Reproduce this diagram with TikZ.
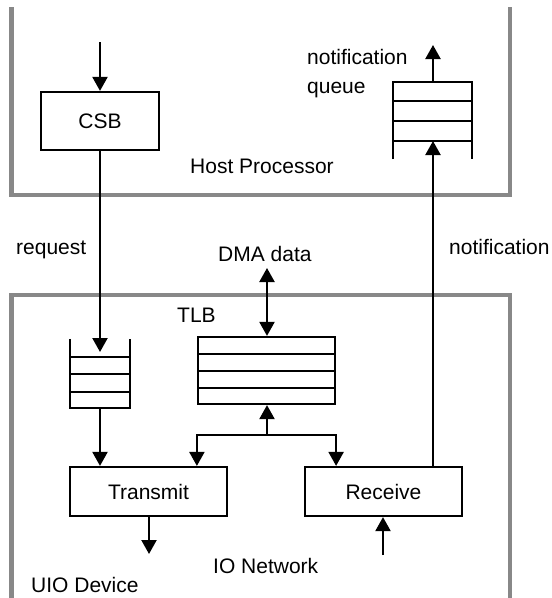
\documentclass[tikz,border=0pt]{standalone}
\usepackage{fontspec}
\setmainfont{Liberation Sans}
\usetikzlibrary{arrows.meta}
\definecolor{framegray}{RGB}{136,136,136}
\begin{document}
\begin{tikzpicture}[x=1pt,y=-1pt,
  every node/.style={font=\fontsize{21}{25}\selectfont},
  frame/.style={draw=framegray,line width=4.3pt,line join=miter},
  ln/.style={draw=black,line width=2.2pt},
  arr/.style={ln,-{Triangle[length=14pt,width=15pt]}},
  darr/.style={ln,{Triangle[length=14pt,width=15pt]}-{Triangle[length=14pt,width=15pt]}},
  box/.style={ln,rectangle,inner sep=0pt},
  lbl/.style={anchor=base west,inner sep=0pt},
  area/.style={rectangle,inner sep=0pt}]
\useasboundingbox (0,0) rectangle (552,598);
\fill[white] (0,0) rectangle (552,598);

% frames
\draw[frame] (11.5,7) -- (11.5,195) -- (510,195) -- (510,7);
\draw[frame] (11.5,598) -- (11.5,295) -- (510,295) -- (510,598);

% nodes
\node[box,draw,minimum width=118pt,minimum height=58pt] (csb) at (100,121) {CSB};
\node[area,minimum width=79pt,minimum height=77pt] (nq) at (432.5,120.5) {};
\node[area,minimum width=59pt,minimum height=69pt] (rq) at (100,373.5) {};
\node[box,draw,minimum width=137pt,minimum height=67pt] (tlb) at (266.5,370.5) {};
\node[box,draw,minimum width=157pt,minimum height=49pt] (tx) at (148.5,491.5) {Transmit};
\node[box,draw,minimum width=157pt,minimum height=49pt] (rx) at (383.5,491.5) {Receive};

% notification queue drawing
\draw[ln] (nq.south west) -- (nq.north west) -- (nq.north east) -- (nq.south east);
\draw[ln] (393,101) -- (472,101);
\draw[ln] (393,121) -- (472,121);
\draw[ln] (393,141) -- (472,141);
% request queue drawing
\draw[ln] (rq.north west) -- (rq.south west) -- (rq.south east) -- (rq.north east);
\draw[ln] (70.5,357) -- (129.5,357);
\draw[ln] (70.5,374) -- (129.5,374);
\draw[ln] (70.5,392) -- (129.5,392);
% TLB rows
\draw[ln] (198,354) -- (335,354);
\draw[ln] (198,371) -- (335,371);
\draw[ln] (198,388) -- (335,388);

% labels
\node[lbl] (hp) at (190,173) {Host Processor};
\node[lbl] (nql1) at (307,64) {notification};
\node[lbl] (nql2) at (307,93) {queue};
\node[lbl] (req) at (16,254) {request};
\node[lbl] (dma) at (218,261) {DMA data};
\node[lbl] (notl) at (449,254) {notification};
\node[lbl] (tlbl) at (177,322) {TLB};
\node[lbl] (ion) at (213,573) {IO Network};
\node[lbl] (uio) at (31,592) {UIO Device};

% coordinates
\coordinate (csbin) at (100,42);
\coordinate (rqin) at (100,352);
\coordinate (txout) at (149,554);
\coordinate (rxin) at (383,555);
\coordinate (nqin) at (433,141);
\coordinate (nqout) at (433,45);
\coordinate (dmaend) at (267,268);
\coordinate (j) at (267,435);

% connectors
\draw[arr] (csbin) -- (csb.north);
\draw[arr] (csb.south) -- (rqin);
\draw[arr] (rq.south) -- (rq.south |- tx.north);
\draw[arr] (tx.south -| txout) -- (txout);
\draw[arr] (rxin) -- (rxin |- rx.south);
\draw[arr] (rx.north -| nqin) -- (nqin);
\draw[arr] (nqin |- nq.north) -- (nqout);
\draw[darr] (dmaend) -- (dmaend |- tlb.north);
\draw[arr] (j) -- (j |- tlb.south);
\draw[arr] (j) -- (j -| tlb.south west) -- (tlb.south west |- tx.north);
\draw[arr] (j) -- (j -| tlb.south east) -- (tlb.south east |- rx.north);
\end{tikzpicture}
\end{document}
